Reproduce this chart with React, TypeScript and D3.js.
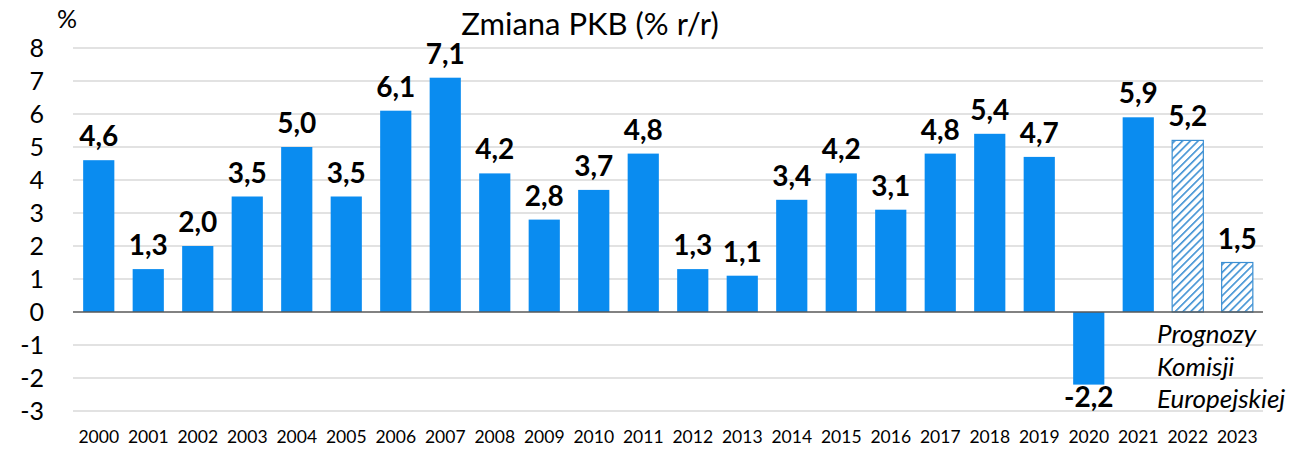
import React, { useEffect, useRef } from "react";
import * as d3 from "d3";

const years = ["2000", "2001", "2002", "2003", "2004", "2005", "2006", "2007", "2008", "2009", "2010", "2011", "2012", "2013", "2014", "2015", "2016", "2017", "2018", "2019", "2020", "2021", "2022", "2023"];
const gdp = [4.6, 1.3, 2.0, 3.5, 5.0, 3.5, 6.1, 7.1, 4.2, 2.8, 3.7, 4.8, 1.3, 1.1, 3.4, 4.2, 3.1, 4.8, 5.4, 4.7, -2.2, 5.9, 5.2, 1.5];
const forecastYears = ["2022", "2023"];
const yTicks = [8, 7, 6, 5, 4, 3, 2, 1, 0, -1, -2, -3];
const noteLines = ["Prognozy", "Komisji", "Europejskiej"];

const App = () => {
  const ref = useRef<SVGSVGElement>(null);

  useEffect(() => {
    const width = 1289;
    const height = 450;
    const font = "Lato, 'Open Sans', sans-serif";

    const svg = d3.select(ref.current)
      .attr("width", width)
      .attr("height", height)
      .style("position", "absolute")
      .style("left", "0px")
      .style("top", "0px")
      .style("background", "#fff");
    svg.selectAll("*").remove();

    const defs = svg.append("defs");
    const pat = defs.append("pattern")
      .attr("id", "hatch")
      .attr("patternUnits", "userSpaceOnUse")
      .attr("width", 5.5)
      .attr("height", 5.5)
      .attr("patternTransform", "rotate(45)");
    pat.append("rect").attr("width", 5.5).attr("height", 5.5).attr("fill", "#fff");
    pat.append("line")
      .attr("x1", 0).attr("y1", 0).attr("x2", 0).attr("y2", 5.5)
      .attr("stroke", "#3b8fd3").attr("stroke-width", 3.2);

    const x = d3.scaleBand<string>()
      .domain(years)
      .range([74, 1262])
      .paddingInner(0.37)
      .paddingOuter(0.185);

    const y = d3.scaleLinear().domain([-3, 8]).range([411, 48]);

    // gridlines
    svg.append("g")
      .selectAll("line")
      .data(yTicks.filter(t => t !== 0))
      .enter()
      .append("line")
      .attr("x1", 73)
      .attr("x2", 1263)
      .attr("y1", d => y(d))
      .attr("y2", d => y(d))
      .attr("stroke", "#d9d9d9")
      .attr("stroke-width", 1.3);

    // y tick labels
    svg.append("g")
      .selectAll("text")
      .data(yTicks)
      .enter()
      .append("text")
      .attr("x", 44)
      .attr("y", d => y(d) + 9)
      .attr("text-anchor", "end")
      .attr("font-family", font)
      .attr("font-size", 25)
      .attr("fill", "#000")
      .text(d => String(d));

    const data = years.map((yr, i) => ({ yr, v: gdp[i], forecast: forecastYears.includes(yr) }));

    // bars
    svg.append("g")
      .selectAll("rect")
      .data(data)
      .enter()
      .append("rect")
      .attr("x", d => x(d.yr)!)
      .attr("width", x.bandwidth())
      .attr("y", d => y(Math.max(0, d.v)))
      .attr("height", d => Math.abs(y(d.v) - y(0)))
      .attr("fill", d => (d.forecast ? "url(#hatch)" : "#0a8cf0"))
      .attr("stroke", d => (d.forecast ? "#3b8fd3" : "none"))
      .attr("stroke-width", 1.2);

    // zero line
    svg.append("line")
      .attr("x1", 73)
      .attr("x2", 1263)
      .attr("y1", y(0))
      .attr("y2", y(0))
      .attr("stroke", "#595959")
      .attr("stroke-width", 1.5);

    // value labels
    const fmt = (v: number) => d3.format(".1f")(v).replace(".", ",").replace("−", "-");
    svg.append("g")
      .selectAll("text")
      .data(data)
      .enter()
      .append("text")
      .attr("x", d => x(d.yr)! + x.bandwidth() / 2)
      .attr("y", d => (d.v >= 0 ? y(d.v) - 14 : y(d.v) + 22))
      .attr("text-anchor", "middle")
      .attr("font-family", font)
      .attr("font-weight", "bold")
      .attr("font-size", 28)
      .attr("fill", "#000")
      .text(d => fmt(d.v));

    // x labels
    svg.append("g")
      .selectAll("text")
      .data(years)
      .enter()
      .append("text")
      .attr("x", d => x(d)! + x.bandwidth() / 2)
      .attr("y", 443)
      .attr("text-anchor", "middle")
      .attr("font-family", font)
      .attr("font-size", 17.5)
      .attr("fill", "#000")
      .text(d => d);

    // title
    svg.append("text")
      .attr("x", 590)
      .attr("y", 35)
      .attr("text-anchor", "middle")
      .attr("font-family", font)
      .attr("font-size", 31)
      .attr("fill", "#000")
      .text("Zmiana PKB (% r/r)");

    svg.append("text")
      .attr("x", 57)
      .attr("y", 28)
      .attr("font-family", font)
      .attr("font-size", 25)
      .attr("fill", "#000")
      .text("%");

    // forecast note
    svg.append("g")
      .selectAll("text")
      .data(noteLines)
      .enter()
      .append("text")
      .attr("x", 1157)
      .attr("y", (d, i) => 343 + i * 32.5)
      .attr("font-family", font)
      .attr("font-style", "italic")
      .attr("font-size", 26)
      .attr("fill", "#000")
      .text(d => d);
  }, []);

  return <svg ref={ref}></svg>;
};

export default App;
